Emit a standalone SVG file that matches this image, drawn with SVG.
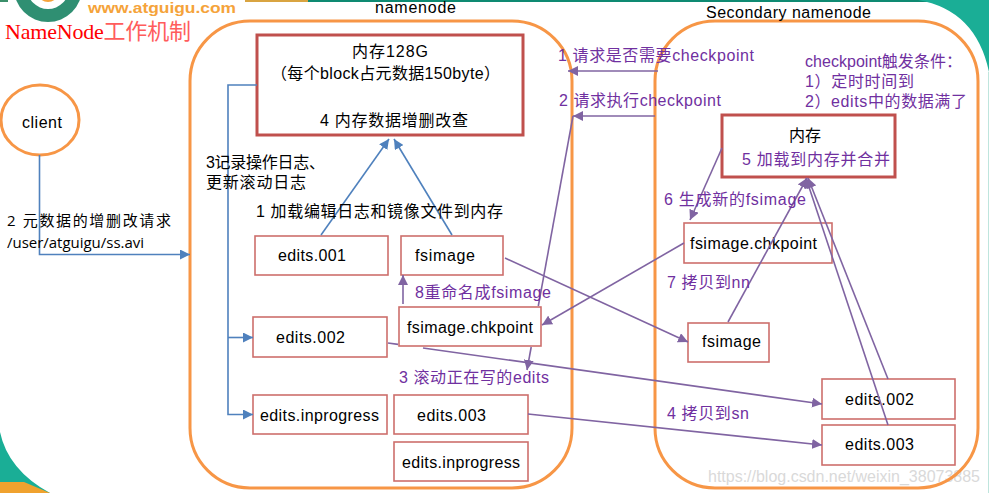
<svg xmlns="http://www.w3.org/2000/svg" width="989" height="493" viewBox="0 0 989 493">
<style>
text{font-family:"Liberation Sans","Noto Sans CJK SC",sans-serif;font-size:16px;fill:#000}
.p{fill:#7030A0}
.t{font-family:"Liberation Serif","Noto Sans CJK SC",serif;font-size:22px;fill:#f00}
.tc{fill:#FF5C5C}
.c{font-family:"Open Sans","Noto Sans CJK SC",sans-serif;font-size:15px}
.w{font-size:16px;fill:#d9d9d9}
.u{font-weight:bold;font-size:14px;fill:#F5A33A}
.box{fill:#fff;stroke:#CD6F6C;stroke-width:1.6}
.mem{fill:#fff;stroke:#C0504D;stroke-width:3}
.cont{fill:none;stroke:#F79646;stroke-width:3}
.b{fill:none;stroke:#4F81BD;stroke-width:1.6}
.v{fill:none;stroke:#8064A2;stroke-width:1.6}
</style>
<defs>
<marker id="ab" markerUnits="userSpaceOnUse" markerWidth="11" markerHeight="10" refX="10" refY="5" orient="auto"><path d="M0,0L10,5L0,10Z" fill="#4F81BD"/></marker>
<marker id="av" markerUnits="userSpaceOnUse" markerWidth="11" markerHeight="10" refX="10" refY="5" orient="auto"><path d="M0,0L10,5L0,10Z" fill="#8064A2"/></marker>
</defs>
<rect width="989" height="493" fill="#fff"/>
<g id="background">
<rect x="308" y="0" width="620" height="2" fill="#0E8A72"/>
<rect x="245" y="0" width="63" height="2" fill="#D9A441"/>
<rect x="0" y="0" width="8" height="2" fill="#3B8F6A"/>
<path d="M918,0Q976,10 989,72L989,0Z" fill="#1AAE96"/>
<rect x="988" y="72" width="1" height="421" fill="#BFE5DD"/>
<path d="M0,432Q8,470 50,493L0,493Z" fill="#1AAE96"/>
<path d="M0,482L24,482L50,493L0,493Z" fill="#F0A22E"/>
<circle cx="48" cy="-12" r="34" fill="#2F8F72"/>
<circle cx="48" cy="-12" r="21" fill="#fff"/>
<circle cx="48" cy="-9" r="11" fill="#F5A33A"/>
<text class="u" x="88" y="13" textLength="148" lengthAdjust="spacingAndGlyphs">www.atguigu.com</text>
<text class="t" x="5" y="39" textLength="186" lengthAdjust="spacing">NameNode<tspan class="tc">工作机制</tspan></text>
<text class="w" x="708" y="482" textLength="272" lengthAdjust="spacing">https://blog.csdn.net/weixin_38073885</text>
</g>
<g id="namenode">
<rect class="cont" x="190" y="21" width="382" height="467" rx="60"/>
<text x="375" y="13" textLength="81" lengthAdjust="spacing">namenode</text>
</g>
<g id="secondary-namenode">
<rect class="cont" x="655" y="21" width="323" height="467" rx="60"/>
<text x="706" y="18" textLength="165" lengthAdjust="spacing">Secondary namenode</text>
</g>
<g id="client">
<ellipse cx="40" cy="120" rx="39" ry="35" fill="#fff" stroke="#F79646" stroke-width="3"/>
<text x="22" y="128" textLength="40" lengthAdjust="spacing">client</text>
</g>
<g id="nn-memory">
<rect class="mem" x="257" y="35" width="266" height="100"/>
<text x="352" y="57" textLength="76" lengthAdjust="spacing">内存128G</text>
<text x="271" y="79" textLength="229" lengthAdjust="spacing">（每个block占元数据150byte）</text>
<text x="320" y="126" textLength="148" lengthAdjust="spacing">4 内存数据增删改查</text>
</g>
<g id="nn-edits001"><rect class="box" x="255" y="236" width="133" height="39"/><text x="278" y="261" textLength="68" lengthAdjust="spacing">edits.001</text></g>
<g id="nn-fsimage"><rect class="box" x="401" y="236" width="102" height="39"/><text x="415" y="261" textLength="60" lengthAdjust="spacing">fsimage</text></g>
<g id="nn-chkpoint"><rect class="box" x="399" y="307" width="142" height="39"/><text x="407" y="333" textLength="126" lengthAdjust="spacing">fsimage.chkpoint</text></g>
<g id="nn-edits002"><rect class="box" x="253" y="317" width="134" height="40"/><text x="276" y="343" textLength="69" lengthAdjust="spacing">edits.002</text></g>
<g id="nn-inprogress"><rect class="box" x="253" y="395" width="134" height="39"/><text x="260" y="421" textLength="119" lengthAdjust="spacing">edits.inprogress</text></g>
<g id="nn-edits003"><rect class="box" x="394" y="395" width="134" height="39"/><text x="417" y="421" textLength="69" lengthAdjust="spacing">edits.003</text></g>
<g id="nn-inprogress2"><rect class="box" x="394" y="442" width="134" height="39"/><text x="402" y="468" textLength="118" lengthAdjust="spacing">edits.inprogress</text></g>
<g id="sn-memory">
<rect class="mem" x="722" y="115" width="173" height="62"/>
<text x="789" y="141" textLength="32" lengthAdjust="spacing">内存</text>
<text class="p" x="742" y="165" textLength="148" lengthAdjust="spacing">5 加载到内存并合并</text>
</g>
<g id="sn-chkpoint"><rect class="box" x="684" y="223" width="148" height="40"/><text x="690" y="249" textLength="127" lengthAdjust="spacing">fsimage.chkpoint</text></g>
<g id="sn-fsimage"><rect class="box" x="688" y="323" width="81" height="39"/><text x="702" y="347" textLength="59" lengthAdjust="spacing">fsimage</text></g>
<g id="sn-edits002"><rect class="box" x="822" y="379" width="133" height="40"/><text x="845" y="405" textLength="69" lengthAdjust="spacing">edits.002</text></g>
<g id="sn-edits003"><rect class="box" x="822" y="425" width="133" height="40"/><text x="845" y="450" textLength="69" lengthAdjust="spacing">edits.003</text></g>
<g id="connectors">
<path class="b" d="M39.500,155V254.500H190" marker-end="url(#ab)"/>
<path class="b" d="M257,85H228V414.500H253" marker-end="url(#ab)"/>
<path class="b" d="M228,337.500H253" marker-end="url(#ab)"/>
<path class="b" d="M321,235L389,139" marker-end="url(#ab)"/>
<path class="b" d="M452,235L394,139" marker-end="url(#ab)"/>
<path class="v" d="M658,71H568" marker-end="url(#av)"/>
<path class="v" d="M655,116H573" marker-end="url(#av)"/>
<path class="v" d="M573,116L538.300,306"/>
<path class="v" d="M531.200,347L527,370" marker-end="url(#av)"/>
<path class="v" d="M505,258L688,342" marker-end="url(#av)"/>
<path class="v" d="M684,243L542,325" marker-end="url(#av)"/>
<path class="v" d="M722,148L690,220" marker-end="url(#av)"/>
<path class="v" d="M728,322L807,178" marker-end="url(#av)"/>
<path class="v" d="M888,379L808,178" marker-end="url(#av)"/>
<path class="v" d="M888,425L806,178" marker-end="url(#av)"/>
<path class="v" d="M388,343L398,344.400"/>
<path class="v" d="M423,348L822,404" marker-end="url(#av)"/>
<path class="v" d="M528,414L822,445" marker-end="url(#av)"/>
<path class="v" d="M403,304V275" marker-end="url(#av)"/>
</g>
<g id="labels">
<text class="p" x="558" y="61" textLength="196" lengthAdjust="spacing">1 请求是否需要checkpoint</text>
<text class="p" x="559" y="106" textLength="162" lengthAdjust="spacing">2 请求执行checkpoint</text>
<text class="p" x="805" y="67" textLength="157" lengthAdjust="spacing">checkpoint触发条件：</text>
<text class="p" x="805" y="87" textLength="109" lengthAdjust="spacing">1）定时时间到</text>
<text class="p" x="805" y="107" textLength="162" lengthAdjust="spacing">2）edits中的数据满了</text>
<text class="p" x="664" y="205" textLength="142" lengthAdjust="spacing">6 生成新的fsimage</text>
<text class="p" x="667" y="288" textLength="83" lengthAdjust="spacing">7 拷贝到nn</text>
<text class="p" x="415" y="298" textLength="136" lengthAdjust="spacing">8重命名成fsimage</text>
<text class="p" x="399" y="383" textLength="150" lengthAdjust="spacing">3 滚动正在写的edits</text>
<text class="p" x="667" y="419" textLength="82" lengthAdjust="spacing">4 拷贝到sn</text>
<text x="206" y="168" textLength="119" lengthAdjust="spacing">3记录操作日志、</text>
<text x="206" y="188" textLength="100" lengthAdjust="spacing">更新滚动日志</text>
<text x="256" y="217" textLength="247" lengthAdjust="spacing">1 加载编辑日志和镜像文件到内存</text>
<text class="c" x="7" y="226" textLength="164" lengthAdjust="spacing">2 元数据的增删改请求</text>
<text class="c" x="7" y="248" textLength="137" lengthAdjust="spacing">/user/atguigu/ss.avi</text>
</g>
</svg>
